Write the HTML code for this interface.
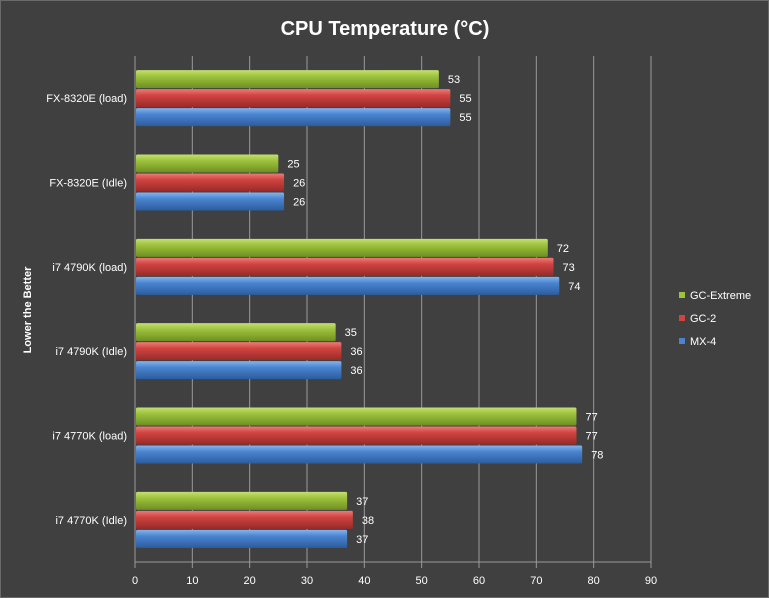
<!DOCTYPE html>
<html><head><meta charset="utf-8"><style>
body{margin:0;background:#404040;}
svg{display:block;font-family:"Liberation Sans",sans-serif;}
</style></head><body>
<svg id="chart" width="769" height="598" xmlns="http://www.w3.org/2000/svg">
<defs>
<linearGradient id="gG" x1="0" y1="0" x2="0" y2="1"><stop offset="0" stop-color="#c3e070"/><stop offset="0.35" stop-color="#9dc23c"/><stop offset="1" stop-color="#6e8f22"/></linearGradient>
<linearGradient id="gR" x1="0" y1="0" x2="0" y2="1"><stop offset="0" stop-color="#ec7b78"/><stop offset="0.35" stop-color="#d04440"/><stop offset="1" stop-color="#982a28"/></linearGradient>
<linearGradient id="gB" x1="0" y1="0" x2="0" y2="1"><stop offset="0" stop-color="#84b4ec"/><stop offset="0.35" stop-color="#4a84d0"/><stop offset="1" stop-color="#2c5c9e"/></linearGradient>
</defs>
<rect x="0.5" y="0.5" width="768" height="597" fill="#404040" stroke="#6a6a6a"/>
<text x="385" y="35" text-anchor="middle" fill="#fff" font-size="20" font-weight="bold">CPU Temperature (°C)</text>
<text transform="translate(31,310) rotate(-90)" text-anchor="middle" fill="#fff" font-size="11" font-weight="bold">Lower the Better</text>
<g id="grid"></g><g id="bars"></g><g id="labels"></g>
<g id="legend"></g>
</svg>
<script>
const categories=["FX-8320E (load)","FX-8320E (Idle)","i7 4790K (load)","i7 4790K (Idle)","i7 4770K (load)","i7 4770K (Idle)"];
const seriesNames=["GC-Extreme","GC-2","MX-4"];
const gcExtreme=[53,25,72,35,77,37];
const gc2=[55,26,73,36,77,38];
const mx4=[55,26,74,36,78,37];
const xTicks=[0,10,20,30,40,50,60,70,80,90];
const NS="http://www.w3.org/2000/svg";
const X0=135,X1=651,Y0=56,Y1=562,XMAX=90;
const x=v=>X0+(X1-X0)*v/XMAX;
const band=(Y1-Y0)/categories.length;
const series=[gcExtreme,gc2,mx4];
const fills=["url(#gG)","url(#gR)","url(#gB)"];
const legendCol=["#9dc23c","#d04440","#4a84d0"];
function mk(t,a,p){const e=document.createElementNS(NS,t);for(const k in a)e.setAttribute(k,a[k]);p.appendChild(e);return e;}
const grid=document.getElementById('grid'),bars=document.getElementById('bars'),labels=document.getElementById('labels'),legend=document.getElementById('legend');
xTicks.forEach(t=>{
  const l=mk('line',{x1:x(t),x2:x(t),y1:Y0,y2:Y1+6,stroke:'#9a9a9a','stroke-width':1},grid);
  
  
  const tx=mk('text',{x:x(t),y:Y1+22,'text-anchor':'middle',fill:'#fff','font-size':11},grid);
  tx.textContent=t;
  
  
});
const ax=mk('line',{x1:X0,x2:X1,y1:Y1,y2:Y1,stroke:'#9a9a9a'},grid);


const ay=mk('line',{x1:X0,x2:X0,y1:Y0,y2:Y1,stroke:'#9a9a9a'},grid);


const bh=19;
categories.forEach((c,i)=>{
  const cy=Y0+band*i+band/2;
  const tl=mk('text',{x:X0-8,y:cy+4,'text-anchor':'end',fill:'#fff','font-size':11},labels);
  tl.textContent=c;
  
  
  series.forEach((s,j)=>{
    const y=cy-1.5*bh+j*bh;
    const r=mk('rect',{x:X0+1,y:y+0.5,width:x(s[i])-X0-1,height:bh-1,fill:fills[j],rx:1.5},bars);
    
    
    const v=mk('text',{x:x(s[i])+9,y:y+bh/2+4,fill:'#fff','font-size':11},labels);
    v.textContent=s[i];
    
    
  });
});
seriesNames.forEach((n,j)=>{
  const y=296+j*23;
  const r=mk('rect',{x:679,y:y-4,width:6,height:6,fill:legendCol[j]},legend);
  
  
  const t=mk('text',{x:690,y:y+3,fill:'#fff','font-size':11},legend);
  t.textContent=n;
  
  
});
</script>
</body></html>
